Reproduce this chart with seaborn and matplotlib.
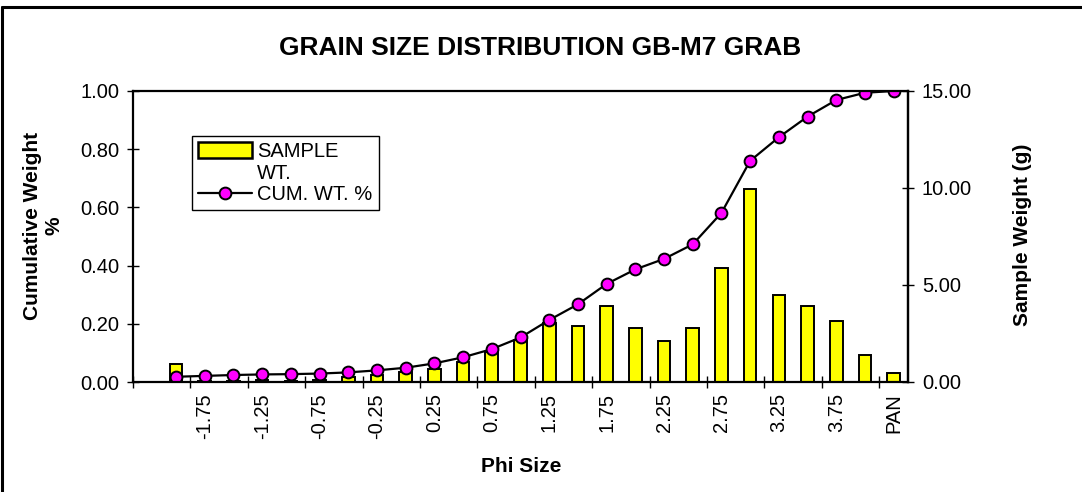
import numpy as np
import pandas as pd
import matplotlib
matplotlib.use("Agg")
import matplotlib.pyplot as plt
import seaborn as sns
from matplotlib.lines import Line2D
from matplotlib.patches import Patch

# ---------------- data ----------------
phi_labels = ["", "-2", "-1.75", "-1.5", "-1.25", "-1", "-0.75", "-0.5", "-0.25",
              "0", "0.25", "0.5", "0.75", "1", "1.25", "1.5", "1.75", "2", "2.25",
              "2.5", "2.75", "3", "3.25", "3.5", "3.75", "4", "PAN"]
data_phi = phi_labels[1:]
sample_wt = [0.95, 0.05, 0.05, 0.08, 0.05, 0.12, 0.26, 0.38, 0.52, 0.69,
             1.03, 1.56, 2.16, 3.02, 2.90, 3.92, 2.80, 2.11, 2.77, 5.86,
             9.97, 4.50, 3.94, 3.14, 1.41, 0.48]
cum_wt = [0.018, 0.021, 0.024, 0.026, 0.027, 0.029, 0.033, 0.040, 0.049, 0.064,
          0.085, 0.113, 0.153, 0.213, 0.267, 0.337, 0.387, 0.423, 0.473, 0.581,
          0.760, 0.841, 0.912, 0.969, 0.994, 1.000]
left_ticks = [0.0, 0.2, 0.4, 0.6, 0.8, 1.0]
right_ticks = [0, 5, 10, 15]

title = "GRAIN SIZE DISTRIBUTION GB-M7 GRAB"
xlabel = "Phi Size"
ylabel_left = "Cumulative Weight\n%"
ylabel_right = "Sample Weight (g)"

# ---------------- style ----------------
sns.set_style("white")
plt.rcParams['font.family'] = ['Liberation Sans', 'DejaVu Sans']
plt.rcParams['text.color'] = 'black'
plt.rcParams['axes.labelcolor'] = 'black'
plt.rcParams['xtick.color'] = 'black'
plt.rcParams['ytick.color'] = 'black'

W, H = 1082, 492
fig = plt.figure(figsize=(W / 100, H / 100), dpi=100)
ax = fig.add_axes([133 / W, 1 - 382 / H, 775 / W, 291 / H])
ax2 = ax.twinx()

df = pd.DataFrame({"phi": data_phi, "wt": sample_wt, "cum": cum_wt})

sns.barplot(data=df, x="phi", y="wt", order=phi_labels, ax=ax2,
            color="#FFFF00", saturation=1, edgecolor="black", linewidth=1.4,
            width=0.44, errorbar=None)
sns.pointplot(data=df, x="phi", y="cum", order=phi_labels, ax=ax,
              color="black", markers="o", linestyles="-", errorbar=None)
for ln in ax.lines:
    ln.set_linewidth(1.6)
    ln.set_markerfacecolor("#FF00FF")
    ln.set_markeredgecolor("black")
    ln.set_markeredgewidth(1.4)
    ln.set_markersize(8.5)

# layering: line above bars
ax.set_zorder(ax2.get_zorder() + 1)
ax.patch.set_visible(False)

# axes limits / ticks
ax.set_xlim(-0.5, len(phi_labels) - 0.5)
ax.set_ylim(0, 1)
ax2.set_ylim(0, 15)
ax.set_yticks(left_ticks)
ax.set_yticklabels([f"{v:.2f}" for v in left_ticks])
ax2.set_yticks(right_ticks)
ax2.set_yticklabels([f"{v:.2f}" for v in right_ticks])

maj = list(range(0, len(phi_labels), 2))
ax.set_xticks(maj)
ax.set_xticklabels([phi_labels[i] for i in maj], rotation=90)
ax.set_xticks(np.arange(-0.5, len(phi_labels) - 1, 2), minor=True)
ax.tick_params(axis="x", which="major", length=0, labelsize=14.5, pad=8)
ax.tick_params(axis="x", which="minor", direction="inout", length=8, width=1.0,
               color="black", bottom=True)
ax.tick_params(axis="y", direction="inout", length=8, width=1.0, color="black",
               labelsize=14.5, pad=6, left=True)
ax2.tick_params(axis="y", direction="inout", length=8, width=1.0, color="black",
                labelsize=14.5, pad=6, right=True)

ax.set_xlabel("")
ax.set_ylabel("")
ax2.set_ylabel("")
ax2.set_xlabel("")

for s in ax.spines.values():
    s.set_visible(True)
    s.set_color("black")
    s.set_linewidth(1.6)
for name, s in ax2.spines.items():
    s.set_visible(name == "right")
    s.set_color("black")
    s.set_linewidth(1.6)

# legend
handles = [Patch(facecolor="#FFFF00", edgecolor="black", linewidth=1.8),
           Line2D([], [], alpha=0),
           Line2D([], [], color="black", lw=1.6, marker="o", markersize=8.5,
                  markerfacecolor="#FF00FF", markeredgecolor="black",
                  markeredgewidth=1.4)]
labels = ["SAMPLE", "WT.", "CUM. WT. %"]
leg = ax.legend(handles, labels, loc="upper left", bbox_to_anchor=(0.076, 0.845),
                borderaxespad=0, frameon=True, fancybox=False, framealpha=1,
                edgecolor="black", fontsize=14.5, handlelength=2.7,
                handleheight=0.8, handletextpad=0.25, labelspacing=0.12,
                borderpad=0.3)
leg.get_frame().set_linewidth(1.0)

# texts
fig.text(540 / W, 1 - 48 / H, title, ha="center", va="center",
         fontsize=19, fontweight="bold")
fig.text(521 / W, 1 - 466 / H, xlabel, ha="center", va="center",
         fontsize=15, fontweight="bold")
fig.text(43 / W, 1 - 226 / H, ylabel_left, ha="center", va="center",
         rotation=90, fontsize=15, fontweight="bold", multialignment="center")
fig.text(1022 / W, 1 - 235 / H, ylabel_right, ha="center", va="center",
         rotation=90, fontsize=15, fontweight="bold")

# outer chart border (only top and left edges fall inside the image)
top_y = 1 - 7 / H
left_x = 1.5 / W
fig.add_artist(Line2D([left_x, 1.0], [top_y, top_y], transform=fig.transFigure,
                      color="black", linewidth=2.2))
fig.add_artist(Line2D([left_x, left_x], [0.0, top_y], transform=fig.transFigure,
                      color="black", linewidth=2.2))

fig.savefig("out.png", dpi=100)
